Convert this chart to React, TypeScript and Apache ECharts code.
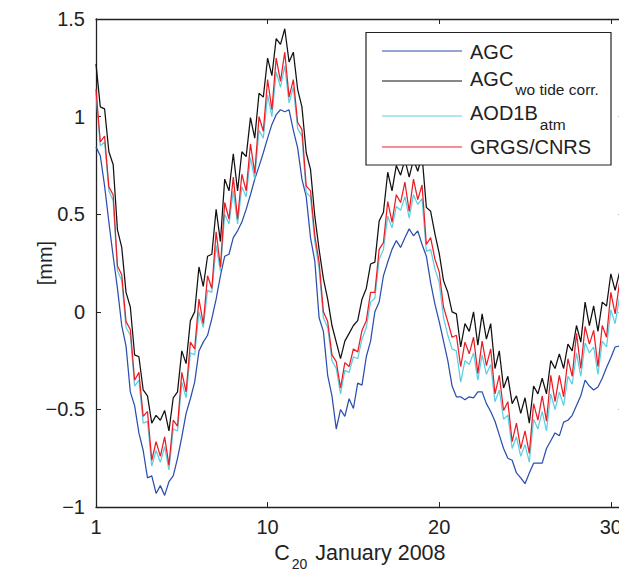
import React, { useEffect, useRef } from "react";
import * as echarts from "echarts";

// 6-hourly samples through January 2008 (day offset from Jan 1)
const STEP_DAYS = 0.25;

const agc = [
  0.845, 0.8, 0.645, 0.46, 0.285, 0.12, -0.07, -0.175, -0.41, -0.48,
  -0.62, -0.71, -0.85, -0.84, -0.93, -0.89, -0.94, -0.87, -0.84, -0.75,
  -0.64, -0.52, -0.445, -0.36, -0.2, -0.155, -0.12, -0.035, 0.065, 0.185,
  0.285, 0.295, 0.38, 0.415, 0.46, 0.525, 0.6, 0.68, 0.745, 0.815,
  0.89, 0.96, 1.01, 1.035, 1.025, 1.035, 0.93, 0.84, 0.68, 0.59,
  0.38, 0.26, -0.03, -0.1, -0.325, -0.43, -0.6, -0.5, -0.535, -0.445,
  -0.495, -0.365, -0.375, -0.23, -0.15, 0.0, 0.05, 0.185, 0.255, 0.32,
  0.365, 0.33, 0.38, 0.425, 0.39, 0.415, 0.345, 0.285, 0.15, 0.04,
  -0.05, -0.15, -0.25, -0.38, -0.435, -0.435, -0.45, -0.435, -0.44, -0.41,
  -0.41, -0.47, -0.51, -0.56, -0.63, -0.7, -0.75, -0.76, -0.825, -0.85,
  -0.88, -0.825, -0.775, -0.775, -0.775, -0.7, -0.66, -0.62, -0.635, -0.565,
  -0.555, -0.53, -0.48, -0.43, -0.35, -0.38, -0.4, -0.385, -0.34, -0.285,
  -0.235, -0.18, -0.175, -0.17,
];

const agcNoTide = [
  1.27, 1.05, 1.04, 0.82, 0.755, 0.42, 0.33, 0.1, 0.025, -0.22,
  -0.23, -0.4, -0.43, -0.57, -0.53, -0.555, -0.505, -0.61, -0.44, -0.41,
  -0.2, -0.265, -0.045, 0.0, 0.23, 0.13, 0.285, 0.295, 0.525, 0.36,
  0.68, 0.62, 0.81, 0.62, 0.82, 0.795, 0.995, 0.89, 1.12, 1.1,
  1.3, 1.21, 1.4, 1.37, 1.45, 1.28, 1.33, 1.14, 1.05, 0.815,
  0.73, 0.49, 0.32, 0.17, 0.065, -0.07, -0.155, -0.24, -0.15, -0.11,
  -0.07, -0.045, 0.065, 0.12, 0.245, 0.255, 0.465, 0.51, 0.715, 0.62,
  0.75, 0.7, 0.78, 0.69, 0.78, 0.72, 0.8, 0.535, 0.515, 0.4,
  0.3, 0.16, 0.1, 0.0, -0.01, -0.18, -0.06, -0.1, 0.0, -0.17,
  -0.01, -0.14, -0.06, -0.29, -0.2, -0.39, -0.33, -0.47, -0.43, -0.52,
  -0.44, -0.57, -0.38, -0.42, -0.34, -0.42, -0.25, -0.29, -0.215, -0.29,
  -0.165, -0.2, -0.07, -0.155, 0.05, -0.07, 0.03, -0.1, 0.05, 0.03,
  0.195, 0.11, 0.2, 0.15,
];

const aod1bAtm = [
  1.12, 0.85, 0.87, 0.62, 0.57, 0.21, 0.16, -0.08, -0.12, -0.38,
  -0.35, -0.57, -0.56, -0.79, -0.71, -0.77, -0.69, -0.81, -0.6, -0.61,
  -0.36, -0.44, -0.21, -0.22, 0.0, -0.08, 0.11, 0.1, 0.34, 0.21,
  0.5, 0.45, 0.62, 0.45, 0.64, 0.59, 0.79, 0.68, 0.93, 0.89,
  1.11, 1.0, 1.23, 1.15, 1.26, 1.07, 1.15, 0.94, 0.9, 0.61,
  0.59, 0.36, 0.22, -0.03, -0.08, -0.25, -0.29, -0.42, -0.3, -0.31,
  -0.23, -0.24, -0.14, -0.08, 0.05, 0.07, 0.27, 0.32, 0.49, 0.43,
  0.54, 0.52, 0.59, 0.48, 0.6, 0.55, 0.58, 0.31, 0.32, 0.22,
  0.15, -0.03, -0.12, -0.19, -0.2, -0.36, -0.25, -0.27, -0.21, -0.35,
  -0.22, -0.32, -0.27, -0.46, -0.4, -0.55, -0.53, -0.7, -0.64, -0.74,
  -0.68, -0.77, -0.55, -0.6, -0.51, -0.61, -0.42, -0.5, -0.41, -0.48,
  -0.33, -0.37, -0.21, -0.33, -0.16, -0.21, -0.18, -0.32, -0.15, -0.18,
  0.01, -0.06, 0.07, 0.02,
];

const grgsCnrs = [
  1.14, 0.87, 0.9, 0.64, 0.6, 0.235, 0.19, -0.05, -0.09, -0.35,
  -0.31, -0.535, -0.51, -0.76, -0.665, -0.74, -0.64, -0.785, -0.555, -0.585,
  -0.31, -0.41, -0.155, -0.19, 0.065, -0.06, 0.185, 0.12, 0.41, 0.23,
  0.56, 0.475, 0.69, 0.475, 0.705, 0.62, 0.86, 0.71, 1.0, 0.925,
  1.19, 1.035, 1.3, 1.18, 1.33, 1.1, 1.19, 0.97, 0.935, 0.645,
  0.62, 0.39, 0.255, 0.0, -0.05, -0.22, -0.255, -0.39, -0.26, -0.28,
  -0.19, -0.205, -0.095, -0.045, 0.1, 0.1, 0.32, 0.355, 0.565, 0.46,
  0.6, 0.56, 0.665, 0.515, 0.68, 0.575, 0.65, 0.345, 0.38, 0.27,
  0.205, 0.025, -0.05, -0.13, -0.12, -0.28, -0.155, -0.215, -0.13, -0.315,
  -0.15, -0.275, -0.19, -0.42, -0.325, -0.505, -0.46, -0.665, -0.57, -0.7,
  -0.61, -0.725, -0.47, -0.555, -0.43, -0.56, -0.325, -0.46, -0.325, -0.435,
  -0.24, -0.33, -0.11, -0.29, -0.075, -0.165, -0.095, -0.28, -0.07, -0.13,
  0.1, -0.01, 0.145, 0.08,
];

const seriesNames = ["AGC", "AGC wo tide corr.", "AOD1B atm", "GRGS/CNRS"];
// legend label: main text + subscript
const legendMain = ["AGC", "AGC", "AOD1B", "GRGS/CNRS"];
const legendSub = ["", "wo tide corr.", "atm", ""];
const seriesColors = ["#2b4fae", "#111111", "#5ccfe2", "#ec1c24"];
const xTickLabels: Record<number, string> = { 0: "1", 10: "10", 20: "20", 30: "30" };
const yTicks = { min: -1, max: 1.5, step: 0.5 };
const xRange = { min: 0, max: 30.75, step: 10 };

const FONT_NAME = "Liberation Sans";
const FONT = "'Liberation Sans', Arial, Helvetica, sans-serif";
const INK = "#222222";

// The original figure is cropped on its right side: the chart canvas is wider
// than the visible page and the overflow is hidden.
const VIEW_W = 619;
const VIEW_H = 576;
const CANVAS_W = 640;

function textWidth(text: string, size: number): number {
  const c = document.createElement("canvas").getContext("2d");
  if (!c) return text.length * size * 0.55;
  c.font = `${size}px '${FONT_NAME}', Arial, sans-serif`;
  return c.measureText(text).width;
}

export default function App() {
  const ref = useRef<HTMLDivElement>(null);

  useEffect(() => {
    if (!ref.current) return;
    const chart = echarts.init(ref.current, undefined, { renderer: "svg" });
    const allData = [agc, agcNoTide, aod1bAtm, grgsCnrs];

    const frameAxisLine = { show: true, onZero: false, lineStyle: { color: INK, width: 1.3 } };
    const frameTick = { show: true, inside: true, length: 5, lineStyle: { color: INK, width: 1 } };

    // legend box (drawn as graphic elements)
    const box = { x: 366, y: 32.5, w: 245, h: 132.5 };
    const sampleX = [382, 462];
    const textX = 470;
    const lineY = [51, 81, 116, 147];
    const mainY = [52, 78.5, 113, 147];
    const subY = [0, 89, 124, 0];
    const MAIN_SIZE = 20;
    const SUB_SIZE = 15.5;

    const legendGraphics: any[] = [
      {
        type: "rect",
        z: 100,
        shape: { x: box.x, y: box.y, width: box.w, height: box.h },
        style: { fill: "#ffffff", stroke: INK, lineWidth: 1.2 },
      },
    ];
    seriesNames.forEach((_, k) => {
      legendGraphics.push({
        type: "line",
        z: 101,
        shape: { x1: sampleX[0], y1: lineY[k], x2: sampleX[1], y2: lineY[k] },
        style: { stroke: seriesColors[k], lineWidth: 1.2 },
      });
      legendGraphics.push({
        type: "text",
        z: 101,
        x: textX,
        y: mainY[k],
        style: {
          text: legendMain[k],
          fill: INK,
          fontSize: MAIN_SIZE,
          fontFamily: FONT,
          verticalAlign: "middle",
          align: "left",
        },
      });
      if (legendSub[k]) {
        legendGraphics.push({
          type: "text",
          z: 101,
          x: textX + textWidth(legendMain[k], MAIN_SIZE) + 2,
          y: subY[k],
          style: {
            text: legendSub[k],
            fill: INK,
            fontSize: SUB_SIZE,
            fontFamily: FONT,
            verticalAlign: "middle",
            align: "left",
          },
        });
      }
    });

    chart.setOption({
      animation: false,
      backgroundColor: "#ffffff",
      grid: { left: 96, top: 19, bottom: 67, right: CANVAS_W - 623.7, containLabel: false },
      graphic: legendGraphics,
      xAxis: [
        {
          type: "value",
          position: "bottom",
          min: xRange.min,
          max: xRange.max,
          interval: xRange.step,
          axisLine: frameAxisLine,
          axisTick: frameTick,
          splitLine: { show: false },
          axisLabel: {
            color: INK,
            fontFamily: FONT,
            fontSize: 20,
            margin: 10,
            formatter: (v: number) => (xTickLabels[v] !== undefined ? xTickLabels[v] : ""),
          },
          name: "{c|C}{s|20}{c| January 2008}",
          nameLocation: "middle",
          nameGap: 29,
          nameTextStyle: {
            color: INK,
            fontFamily: FONT,
            fontSize: 21,
            rich: {
              c: { fontFamily: FONT, fontSize: 21.5, lineHeight: 26, color: INK },
              s: { fontFamily: FONT, fontSize: 14, lineHeight: 14, color: INK, verticalAlign: "bottom", padding: [0, 2, -5, 2] },
            },
          },
        },
        {
          type: "value",
          position: "top",
          min: xRange.min,
          max: xRange.max,
          interval: xRange.step,
          axisLine: frameAxisLine,
          axisTick: frameTick,
          axisLabel: { show: false },
          splitLine: { show: false },
        },
      ],
      yAxis: [
        {
          type: "value",
          position: "left",
          min: yTicks.min,
          max: yTicks.max,
          interval: yTicks.step,
          axisLine: frameAxisLine,
          axisTick: frameTick,
          splitLine: { show: false },
          axisLabel: {
            color: INK,
            fontFamily: FONT,
            fontSize: 20,
            margin: 11,
            formatter: (v: number) => (v < 0 ? "\u2212" + String(Math.abs(v)) : String(v)),
          },
          name: "[mm]",
          nameLocation: "middle",
          nameMoveOverlap: false,
          nameGap: 41,
          nameTextStyle: { color: INK, fontFamily: FONT, fontSize: 20 },
        },
        {
          type: "value",
          position: "right",
          min: yTicks.min,
          max: yTicks.max,
          interval: yTicks.step,
          axisLine: frameAxisLine,
          axisTick: frameTick,
          axisLabel: { show: false },
          splitLine: { show: false },
        },
      ],
      series: seriesNames.map((name, k) => ({
        name,
        type: "line",
        xAxisIndex: 0,
        yAxisIndex: 0,
        symbol: "none",
        showSymbol: false,
        lineStyle: { color: seriesColors[k], width: 1.25 },
        itemStyle: { color: seriesColors[k] },
        data: allData[k].map((v, i) => [i * STEP_DAYS, v]),
      })),
    });

    return () => chart.dispose();
  }, []);

  return (
    <div
      style={{
        position: "fixed",
        left: 0,
        top: 0,
        width: VIEW_W,
        height: VIEW_H,
        overflow: "hidden",
        background: "#fff",
      }}
    >
      <div ref={ref} style={{ width: CANVAS_W, height: VIEW_H }} />
    </div>
  );
}
